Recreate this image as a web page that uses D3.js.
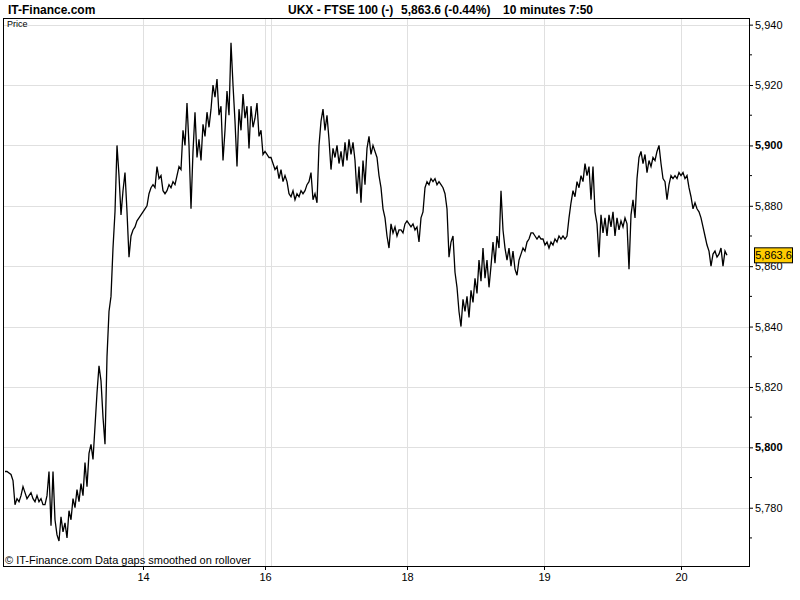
<!DOCTYPE html>
<html><head><meta charset="utf-8">
<script src="https://cdn.jsdelivr.net/npm/d3@7"></script>
<style>
html,body{margin:0;padding:0;background:#fff;}
svg{display:block;}
text{font-family:"Liberation Sans",Arial,sans-serif;}
</style></head>
<body><svg id="c" width="800" height="600"></svg>
<script>
// ---- data (one sample per step) ----
const prices = [
5792,5792,5791.5,5791,5789,5781,5783,5782,5784,5787,
5785,5783,5784,5785,5783,5782,5784,5782,5783,5781,
5781,5784,5792,5774,5792,5776,5771,5769,5777,5772,
5775,5770,5779,5776,5783,5780,5786,5782,5788,5784,
5795,5787,5798,5801,5796,5807,5818,5827,5822,5810,
5801,5830,5845,5850,5866,5878,5900,5890,5877,5885,
5891,5878,5863,5870,5872,5873,5875,5876,5877,5878,
5879,5880,5884,5886,5887,5886,5893,5889,5890,5885,
5884,5885,5887,5886,5888,5887,5890,5893,5892,5905,
5900,5914,5900,5879,5898,5911,5896,5902,5895,5907,
5903,5911,5906,5912,5920,5916,5922,5910,5913,5895,
5905,5918,5910,5934,5920,5908,5893,5912,5905,5917,
5909,5913,5899,5913,5906,5909,5914,5903,5905,5897,
5898,5897,5896,5896,5894,5892,5893,5889,5892,5888,
5890,5888,5884,5883,5885,5882,5884,5883,5885,5884,
5885,5887,5888,5891,5882,5884,5881,5900,5908,5912,
5905,5910,5902,5892,5899,5896,5900,5894,5898,5893,
5901,5895,5902,5897,5901,5895,5884,5893,5881,5895,
5887,5899,5903,5897,5900,5898,5896,5890,5886,5879,
5876,5870,5866,5874,5871,5873,5870,5872,5872,5871,
5874,5875,5874,5873,5874,5872,5873,5868,5876,5878,
5886,5888,5887,5889,5888,5889,5887,5888,5887,5886,
5884,5879,5863,5868,5870,5858,5853,5845,5840,5849,
5845,5850,5843,5852,5848,5856,5851,5862,5855,5866,
5856,5862,5853,5860,5868,5861,5870,5866,5885,5872,
5866,5862,5866,5860,5865,5859,5857,5862,5864,5866,
5865,5868,5869,5871,5871,5870,5869,5870,5869,5869,
5867,5868,5866,5868,5867,5869,5868,5870,5869,5870,
5869,5870,5876,5881,5885,5883,5888,5886,5890,5888,
5894,5890,5893,5882,5893,5878,5874,5863,5877,5871,
5876,5870,5877,5873,5878,5870,5876,5872,5875,5873,
5876,5874,5859,5877,5882,5876,5889,5896,5898,5894,
5897,5891,5895,5893,5896,5895,5898,5900,5894,5889,
5888,5882,5887,5890,5889,5890,5889,5891,5890,5891,
5889,5890,5886,5883,5879,5881,5879,5878,5876,5873,
5870,5867,5865,5860,5864,5865,5863,5864,5866,5860,5865,5863.6
];
const yTicks = [5780,5800,5820,5840,5860,5880,5900,5920,5940];
const yMinor = [5770,5790,5810,5830,5850,5870,5890,5910,5930];
const xTickPos = [69,130,201,269.5,338];
const xTickLabels = ["14","16","18","19","20"];
const xGridExtra = [133];
const lastPrice = 5863.6;
const titleLeft = "IT-Finance.com";
const titleMain = "UKX - FTSE 100 (-)";
const titleQuote = "5,863.6 (-0.44%)";
const titleInterval = "10 minutes  7:50";

// ---- layout ----
const L = 3.5, R = 749, T = 18, B = 566;
const svg = d3.select("#c");
const x = d3.scaleLinear().domain([-0.75, 372]).range([L, R]);
const y = d3.scaleLinear().domain([5760.7, 5942.2]).range([B, T]);
const fmt = d3.format(",");

// grid
const g = svg.append("g");
g.selectAll("line.hg").data(yTicks).join("line")
  .attr("x1", L).attr("x2", R)
  .attr("y1", d => Math.round(y(d)) + 0.5).attr("y2", d => Math.round(y(d)) + 0.5)
  .attr("stroke", "#e0e0e0");
g.selectAll("line.vg").data(xTickPos.concat(xGridExtra)).join("line")
  .attr("x1", d => Math.round(x(d)) + 0.5).attr("x2", d => Math.round(x(d)) + 0.5)
  .attr("y1", T).attr("y2", B)
  .attr("stroke", "#e0e0e0");

// price line
const line = d3.line().x((d, i) => x(i)).y(d => y(d));
svg.append("path").datum(prices)
  .attr("d", line).attr("fill", "none").attr("stroke", "#000")
  .attr("stroke-width", 1.3).attr("stroke-linejoin", "miter");

// frame
svg.append("rect").attr("x", L).attr("y", T + 0.5).attr("width", R - L).attr("height", B - T)
  .attr("fill", "none").attr("stroke", "#000").attr("shape-rendering", "crispEdges");

// right axis
const yAxis = d3.axisRight(y).tickValues(yTicks).tickSize(4).tickPadding(2).tickFormat(d => fmt(d));
const ya = svg.append("g").attr("transform", `translate(${R},0)`).call(yAxis);
ya.select(".domain").remove();
ya.selectAll("line").attr("stroke", "#000");
ya.selectAll("text").attr("font-size", 11).attr("fill", "#000")
  .attr("font-weight", d => d % 100 === 0 ? "bold" : "normal");
ya.selectAll("line.minor").data(yMinor).join("line").attr("class", "minor")
  .attr("x1", 0).attr("x2", 3).attr("y1", d => y(d)).attr("y2", d => y(d)).attr("stroke", "#000");

// bottom axis
const xAxis = d3.axisBottom(x).tickValues(xTickPos).tickSize(4).tickPadding(3)
  .tickFormat((d, i) => xTickLabels[i]);
const xa = svg.append("g").attr("transform", `translate(0,${B})`).call(xAxis);
xa.select(".domain").remove();
xa.selectAll("line").attr("stroke", "#000");
xa.selectAll("text").attr("font-size", 11).attr("fill", "#000");

// last price tag
const ly = y(lastPrice);
svg.append("rect").attr("x", 754.5).attr("y", ly - 7.5).attr("width", 38).attr("height", 15)
  .attr("fill", "#ffcc00").attr("stroke", "#000");
svg.append("text").attr("x", 773.5).attr("y", ly + 4).attr("text-anchor", "middle")
  .attr("font-size", 11).text(fmt(lastPrice));

// titles
svg.append("text").attr("x", 8).attr("y", 14).attr("font-size", 12).attr("font-weight", "bold").text(titleLeft);
svg.append("text").attr("x", 288).attr("y", 14).attr("font-size", 12).attr("font-weight", "bold").text(titleMain);
svg.append("text").attr("x", 401).attr("y", 14).attr("font-size", 12).attr("font-weight", "bold").text(titleQuote);
svg.append("text").attr("x", 503).attr("y", 14).attr("font-size", 12).attr("font-weight", "bold").text(titleInterval);
svg.append("text").attr("x", 7).attr("y", 27).attr("font-size", 9).text("Price");
svg.append("text").attr("x", 5).attr("y", 564).attr("font-size", 11).text("© IT-Finance.com  Data gaps smoothed on rollover");
</script></body></html>
